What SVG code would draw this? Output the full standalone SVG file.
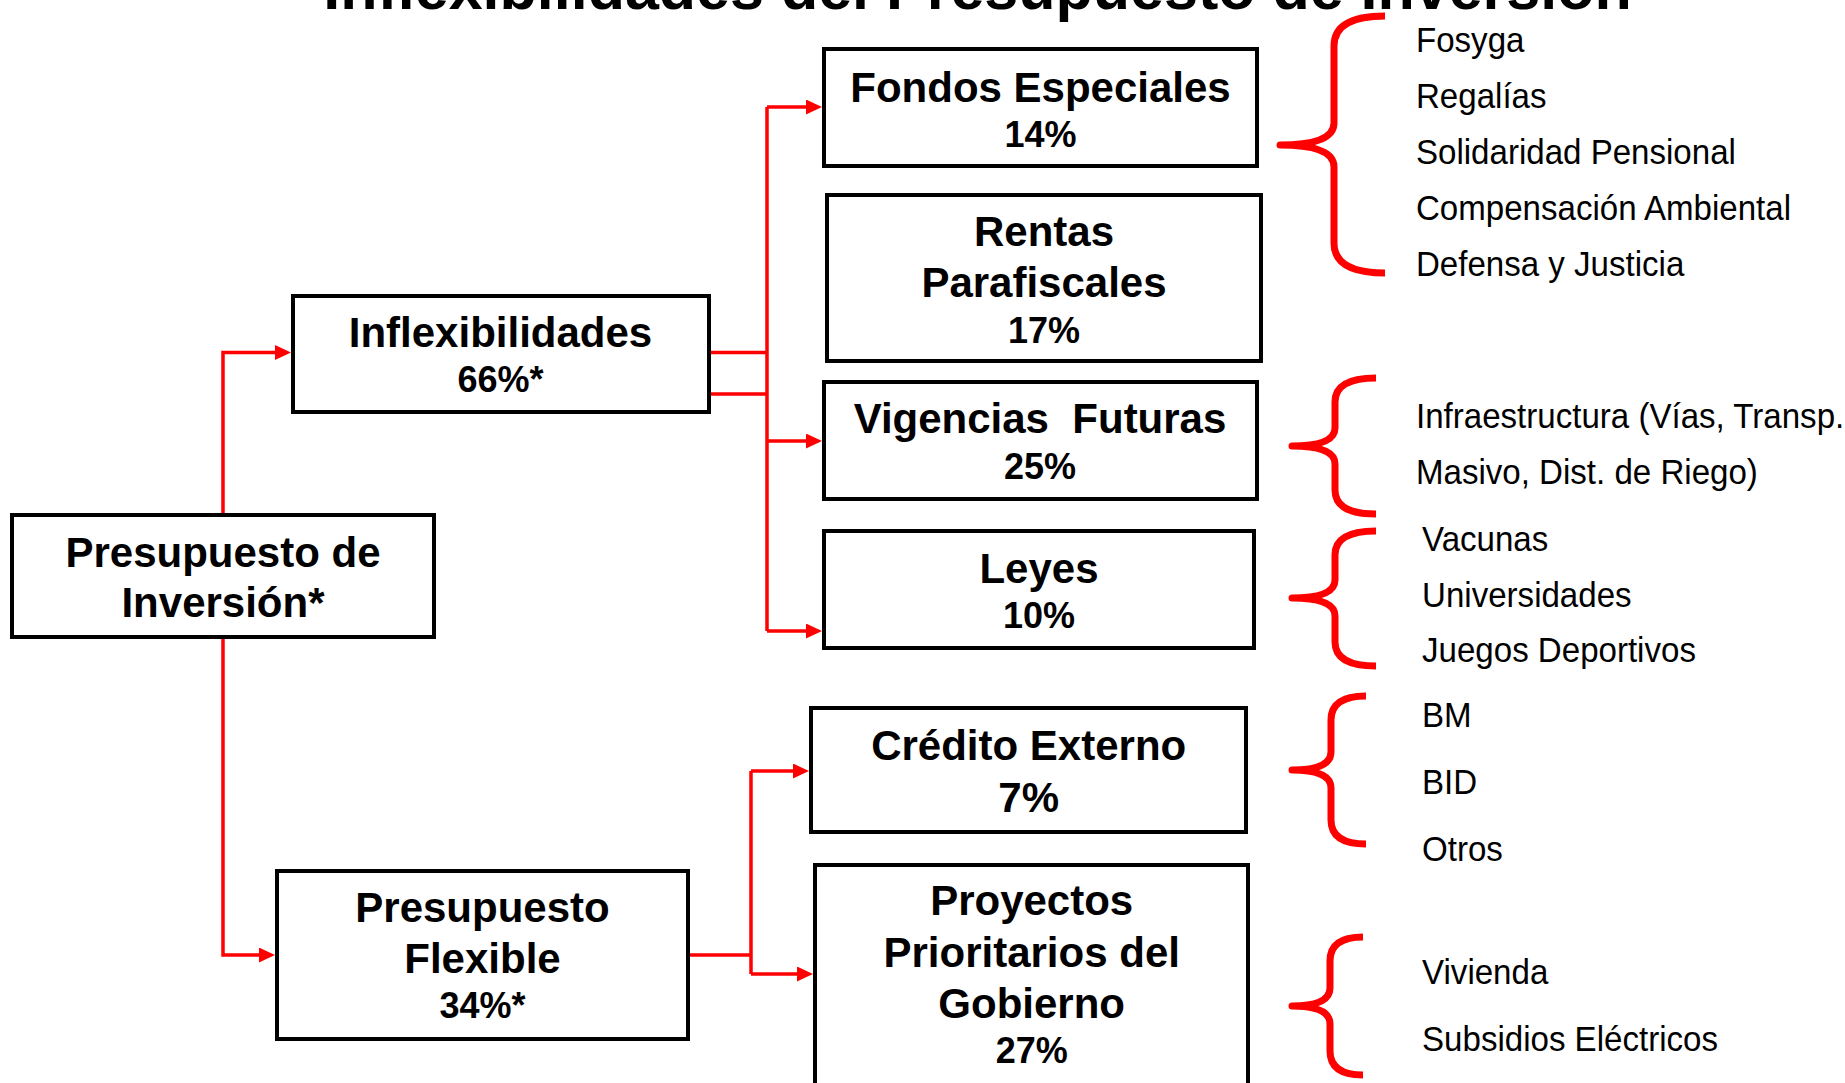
<svg xmlns="http://www.w3.org/2000/svg" width="1845" height="1083" viewBox="0 0 1845 1083">
<defs>
<style>
.box{fill:#fff;stroke:#000;stroke-width:4}
.t{font-family:"Liberation Sans",Arial,sans-serif;font-weight:bold;font-size:42px;text-anchor:middle;fill:#000}
.p{font-size:36px}
.big{font-size:42px}
.r{font-family:"Liberation Sans",Arial,sans-serif;font-size:35px;fill:#000}
.title{font-family:"Liberation Sans",Arial,sans-serif;font-weight:bold;font-size:61px;text-anchor:middle;fill:#000}
.c{fill:none;stroke:#f00;stroke-width:3.5}
.br{fill:none;stroke:#f00;stroke-width:7;stroke-linejoin:round}
</style>
<marker id="ah" markerUnits="userSpaceOnUse" markerWidth="17" markerHeight="15" refX="0" refY="7.5" orient="auto">
<path d="M0,0 L16,7.5 L0,15 z" fill="#f00"/>
</marker>
</defs>
<rect width="1845" height="1083" fill="#fff"/>
<text class="title" x="977.5" y="8.5">Inflexibilidades del Presupuesto de Inversión</text>

<g id="connectors">
<path class="c" d="M223,513 V352.5 H275" marker-end="url(#ah)"/>
<path class="c" d="M223,639 V955 H259" marker-end="url(#ah)"/>
<path class="c" d="M711,352.5 H767 M711,394 H767 M767,107 V631"/>
<path class="c" d="M767,107 H806" marker-end="url(#ah)"/>
<path class="c" d="M767,441 H806" marker-end="url(#ah)"/>
<path class="c" d="M767,631 H806" marker-end="url(#ah)"/>
<path class="c" d="M690,955 H751 M751,771 V974"/>
<path class="c" d="M751,771 H793" marker-end="url(#ah)"/>
<path class="c" d="M751,974 H797" marker-end="url(#ah)"/>
</g>

<g id="presupuesto-inversion">
<rect class="box" x="12" y="515" width="422" height="122"/>
<text class="t" x="223" y="566.7">Presupuesto de</text>
<text class="t" x="223" y="617.3">Inversión*</text>
</g>
<g id="inflexibilidades">
<rect class="box" x="293" y="296" width="416" height="116"/>
<text class="t" x="500.5" y="346.7">Inflexibilidades</text>
<text class="t p" x="500.5" y="391.7">66%*</text>
</g>
<g id="presupuesto-flexible">
<rect class="box" x="277" y="871" width="411" height="168"/>
<text class="t" x="482.5" y="921.7">Presupuesto</text>
<text class="t" x="482.5" y="973.3">Flexible</text>
<text class="t p" x="482.5" y="1018.3">34%*</text>
</g>
<g id="fondos-especiales">
<rect class="box" x="824" y="49" width="433" height="117"/>
<text class="t" x="1040.5" y="101.7">Fondos Especiales</text>
<text class="t p" x="1040.5" y="146.7">14%</text>
</g>
<g id="rentas-parafiscales">
<rect class="box" x="827" y="195" width="434" height="166"/>
<text class="t" x="1044" y="246">Rentas</text>
<text class="t" x="1044" y="296.7">Parafiscales</text>
<text class="t p" x="1044" y="343">17%</text>
</g>
<g id="vigencias-futuras">
<rect class="box" x="824" y="382" width="433" height="117"/>
<text class="t" x="1040" y="433.3">Vigencias&#160; Futuras</text>
<text class="t p" x="1040" y="479.3">25%</text>
</g>
<g id="leyes">
<rect class="box" x="824" y="531" width="430" height="117"/>
<text class="t" x="1039" y="583.3">Leyes</text>
<text class="t p" x="1039" y="628.3">10%</text>
</g>
<g id="credito-externo">
<rect class="box" x="811" y="708" width="435" height="124"/>
<text class="t" x="1028.7" y="760">Crédito Externo</text>
<text class="t big" x="1028.7" y="811.7">7%</text>
</g>
<g id="proyectos-prioritarios">
<rect class="box" x="815" y="865" width="433" height="260"/>
<text class="t" x="1031.7" y="915">Proyectos</text>
<text class="t" x="1031.7" y="966.7">Prioritarios del</text>
<text class="t" x="1031.7" y="1018.3">Gobierno</text>
<text class="t p" x="1031.7" y="1063.3">27%</text>
</g>

<g id="brace-fondos">
<path class="br" d="M1385,16 Q1334,16 1334,46 V123 Q1334,145 1280,145 Q1334,145 1334,167 V243 Q1334,273 1385,273"/>
<g transform="scale(0.945 1)">
<text class="r" x="1498.4" y="52.3">Fosyga</text>
<text class="r" x="1498.4" y="108.3">Regalías</text>
<text class="r" x="1498.4" y="164.3">Solidaridad Pensional</text>
<text class="r" x="1498.4" y="220">Compensación Ambiental</text>
<text class="r" x="1498.4" y="276">Defensa y Justicia</text>
</g>
</g>
<g id="brace-vigencias">
<path class="br" d="M1376,378 Q1335,378 1335,402 V428 Q1335,446 1292,446 Q1335,446 1335,464 V490 Q1335,514 1376,514"/>
<g transform="scale(0.945 1)">
<text class="r" x="1498.4" y="428.3">Infraestructura (Vías, Transp.</text>
<text class="r" x="1498.4" y="484">Masivo, Dist. de Riego)</text>
</g>
</g>
<g id="brace-leyes">
<path class="br" d="M1376,531 Q1335,531 1335,555 V580 Q1335,598 1292,598 Q1335,598 1335,616 V642 Q1335,666 1376,666"/>
<g transform="scale(0.945 1)">
<text class="r" x="1504.8" y="550.7">Vacunas</text>
<text class="r" x="1504.8" y="606.7">Universidades</text>
<text class="r" x="1504.8" y="661.7">Juegos Deportivos</text>
</g>
</g>
<g id="brace-credito">
<path class="br" d="M1366,696 Q1331,696 1331,720 V752 Q1331,770 1292,770 Q1331,770 1331,788 V820 Q1331,844 1366,844"/>
<g transform="scale(0.945 1)">
<text class="r" x="1504.8" y="727.3">BM</text>
<text class="r" x="1504.8" y="794.3">BID</text>
<text class="r" x="1504.8" y="861">Otros</text>
</g>
</g>
<g id="brace-proyectos">
<path class="br" d="M1363,937 Q1330,937 1330,961 V988 Q1330,1006 1292,1006 Q1330,1006 1330,1024 V1051 Q1330,1075 1363,1075"/>
<g transform="scale(0.945 1)">
<text class="r" x="1504.8" y="984">Vivienda</text>
<text class="r" x="1504.8" y="1050.7">Subsidios Eléctricos</text>
</g>
</g>
</svg>
